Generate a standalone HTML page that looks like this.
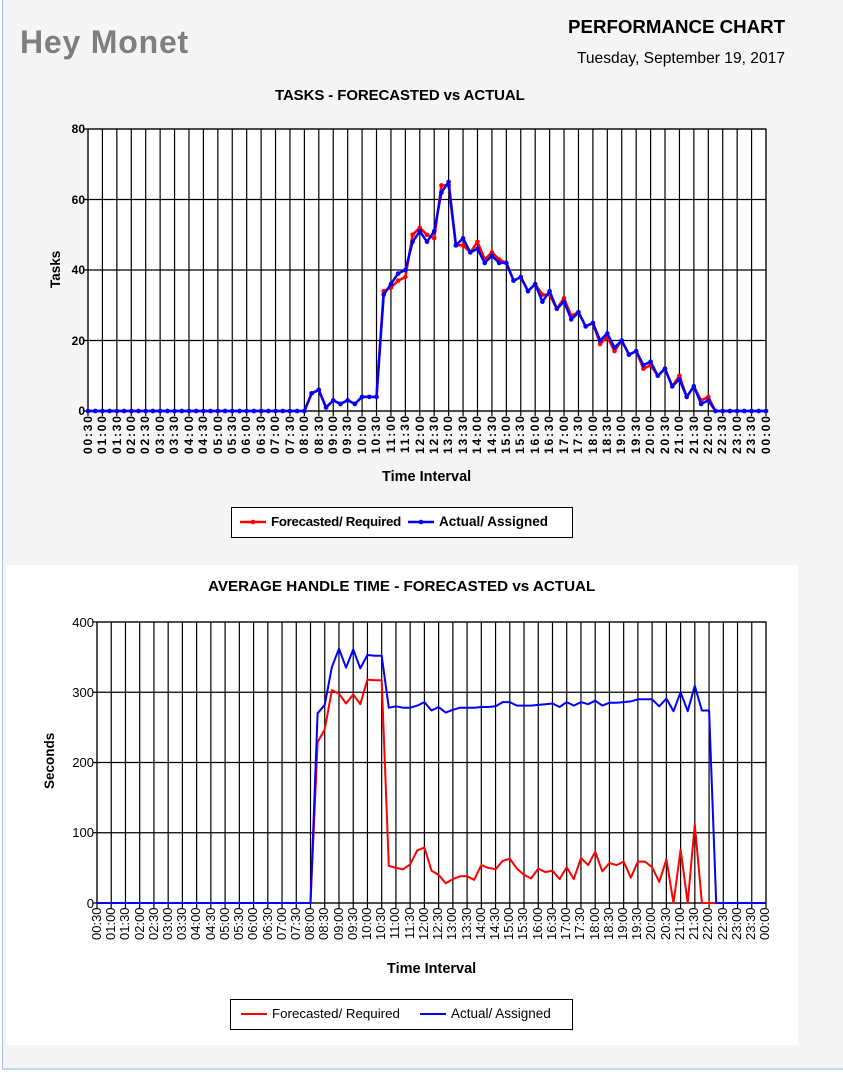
<!DOCTYPE html>
<html><head><meta charset="utf-8">
<style>
*{margin:0;padding:0;box-sizing:border-box}
body{width:843px;height:1076px;background:#fff;position:relative;overflow:hidden;font-family:"Liberation Sans",Arial,sans-serif;color:#000}
.pg{position:absolute;left:2px;top:0;width:841px;height:1070px;background:#f5f5f5;border-left:1px solid #a9c3ea;border-bottom:2px solid #c5d7f0}
.wb{position:absolute;left:6px;top:565px;width:792px;height:480px;background:#fff}
.a{position:absolute;white-space:nowrap}
.row{position:absolute;display:flex}
.row span{display:block;writing-mode:vertical-rl;transform:rotate(180deg);text-align:end;line-height:14px}
.r1 span{width:14.426px;height:42px;font-size:12px;font-weight:bold;letter-spacing:1.8px}
.r2 span{width:14.234px;height:40px;font-size:13px}
svg{position:absolute;left:0;top:0}
</style></head><body>
<div class="pg"></div>
<div class="wb"></div>
<div class="a" style="left:20px;top:24px;font-size:32px;font-weight:bold;color:#7f7f7f;letter-spacing:0.8px">Hey Monet</div>
<div class="a" style="right:58px;top:16px;font-size:18.7px;font-weight:bold">PERFORMANCE CHART</div>
<div class="a" style="right:58px;top:50px;font-size:15.6px">Tuesday, September 19, 2017</div>
<div class="a" style="left:275px;top:87px;font-size:15px;font-weight:bold;letter-spacing:-0.1px">TASKS - FORECASTED vs ACTUAL</div>
<div class="a" style="left:208px;top:578px;font-size:15.2px;font-weight:bold">AVERAGE HANDLE TIME - FORECASTED vs ACTUAL</div>

<div class="a" style="right:758px;top:122px;font-size:12px;font-weight:bold">80</div>
<div class="a" style="right:758px;top:193px;font-size:12px;font-weight:bold">60</div>
<div class="a" style="right:758px;top:263px;font-size:12px;font-weight:bold">40</div>
<div class="a" style="right:758px;top:334px;font-size:12px;font-weight:bold">20</div>
<div class="a" style="right:758px;top:404px;font-size:12px;font-weight:bold">0</div>
<div class="a" style="left:38px;top:262px;font-size:13.5px;font-weight:bold;transform:rotate(-90deg);transform-origin:18px 8px">Tasks</div>

<div class="a" style="right:749px;top:615px;font-size:13px">400</div>
<div class="a" style="right:749px;top:685px;font-size:13px">300</div>
<div class="a" style="right:749px;top:755px;font-size:13px">200</div>
<div class="a" style="right:749px;top:825px;font-size:13px">100</div>
<div class="a" style="right:749px;top:896px;font-size:13px">0</div>
<div class="a" style="left:24px;top:755px;font-size:13.5px;font-weight:bold;transform:rotate(-90deg);transform-origin:26px 8px">Seconds</div>

<div class="row r1" style="left:80.8px;top:414px"><span>00:30</span><span>01:00</span><span>01:30</span><span>02:00</span><span>02:30</span><span>03:00</span><span>03:30</span><span>04:00</span><span>04:30</span><span>05:00</span><span>05:30</span><span>06:00</span><span>06:30</span><span>07:00</span><span>07:30</span><span>08:00</span><span>08:30</span><span>09:00</span><span>09:30</span><span>10:00</span><span>10:30</span><span>11:00</span><span>11:30</span><span>12:00</span><span>12:30</span><span>13:00</span><span>13:30</span><span>14:00</span><span>14:30</span><span>15:00</span><span>15:30</span><span>16:00</span><span>16:30</span><span>17:00</span><span>17:30</span><span>18:00</span><span>18:30</span><span>19:00</span><span>19:30</span><span>20:00</span><span>20:30</span><span>21:00</span><span>21:30</span><span>22:00</span><span>22:30</span><span>23:00</span><span>23:30</span><span>00:00</span></div>
<div class="row r2" style="left:89.9px;top:907px"><span>00:30</span><span>01:00</span><span>01:30</span><span>02:00</span><span>02:30</span><span>03:00</span><span>03:30</span><span>04:00</span><span>04:30</span><span>05:00</span><span>05:30</span><span>06:00</span><span>06:30</span><span>07:00</span><span>07:30</span><span>08:00</span><span>08:30</span><span>09:00</span><span>09:30</span><span>10:00</span><span>10:30</span><span>11:00</span><span>11:30</span><span>12:00</span><span>12:30</span><span>13:00</span><span>13:30</span><span>14:00</span><span>14:30</span><span>15:00</span><span>15:30</span><span>16:00</span><span>16:30</span><span>17:00</span><span>17:30</span><span>18:00</span><span>18:30</span><span>19:00</span><span>19:30</span><span>20:00</span><span>20:30</span><span>21:00</span><span>21:30</span><span>22:00</span><span>22:30</span><span>23:00</span><span>23:30</span><span>00:00</span></div>

<div class="a" style="left:382px;top:469px;font-size:14.5px;font-weight:bold">Time Interval</div>
<div class="a" style="left:387px;top:961px;font-size:14.5px;font-weight:bold">Time Interval</div>

<div class="a" style="left:231px;top:507px;width:342px;height:31px;border:1px solid #000;background:#fff"></div>
<div class="a" style="left:271px;top:514px;font-size:13.3px;font-weight:bold;letter-spacing:-0.3px">Forecasted/ Required</div>
<div class="a" style="left:439px;top:514px;font-size:13.5px;font-weight:bold">Actual/ Assigned</div>

<div class="a" style="left:230px;top:999px;width:343px;height:31px;border:1px solid #000;background:#fff"></div>
<div class="a" style="left:272px;top:1006px;font-size:13.3px">Forecasted/ Required</div>
<div class="a" style="left:451px;top:1006px;font-size:13.5px">Actual/ Assigned</div>

<svg id="s" width="843" height="1076" xmlns="http://www.w3.org/2000/svg"></svg>
<script>
var s=document.getElementById('s'),NS='http://www.w3.org/2000/svg';
function el(t,a){var e=document.createElementNS(NS,t);for(var k in a)e.setAttribute(k,a[k]);s.appendChild(e);return e}
function z(n){var a=[];for(var i=0;i<n;i++)a.push(0);return a}
var tF=z(31).concat([5,6,1,3,2,3,2,4,4,4,34,35,37,38,50,52,50,49,64,64,47,47,45,48,43,45,43,42,37,38,34,36,33,33,29,32,27,28,24,25,19,21,17,20,16,17,12,13,10,12,7,10,4,7,3,4]).concat(z(8));
var tA=z(31).concat([5,6,1,3,2,3,2,4,4,4,33,36,39,40,48,51,48,51,62,65,47,49,45,46,42,44,42,42,37,38,34,36,31,34,29,31,26,28,24,25,20,22,18,20,16,17,13,14,10,12,7,9,4,7,2,3]).concat(z(8));
var hF=z(31).concat([229,247,303,298,284,297,283,318,317,317,53,50,48,55,75,79,46,40,28,34,38,38,33,54,50,48,60,63,49,40,35,49,44,46,34,51,34,64,54,73,45,57,54,59,36,59,59,51,30,62,0,76,0,112,0,0]).concat(z(8));
var hA=z(31).concat([270,282,336,362,335,361,334,353,352,352,278,280,278,278,281,286,274,279,271,275,278,278,278,279,279,280,286,286,281,281,281,282,283,284,279,286,281,286,283,288,281,285,285,286,287,290,290,290,280,291,273,300,273,309,274,274]).concat(z(8));
function chart(x0,x1,y0,y1,ymax,ystep,F,A,dots,lw){
  el('rect',{x:x0,y:y1,width:x1-x0,height:y0-y1,fill:'#fff'});
  for(var k=0;k<48;k++){var x=x0+(x1-x0)*k/47;el('line',{x1:x,y1:y1,x2:x,y2:y0+5,stroke:'#000','stroke-width':1.2});}
  for(var v=0;v<=ymax;v+=ystep){var y=y0-(y0-y1)*v/ymax;el('line',{x1:x0-4,y1:y,x2:x1,y2:y,stroke:'#000','stroke-width':1.2});}
  el('rect',{x:x0,y:y1,width:x1-x0,height:y0-y1,fill:'none',stroke:'#000','stroke-width':1.2});
  [[F,'#f00'],[A,'#00f']].forEach(function(p){
    var pts=p[0].map(function(v,i){return (x0+(x1-x0)*i/94).toFixed(1)+','+(y0-(y0-y1)*v/ymax).toFixed(1)}).join(' ');
    el('polyline',{points:pts,fill:'none',stroke:p[1],'stroke-width':lw,'stroke-linejoin':'round'});
    if(dots)p[0].forEach(function(v,i){el('circle',{cx:x0+(x1-x0)*i/94,cy:y0-(y0-y1)*v/ymax,r:2.3,fill:p[1]})});
  });
}
chart(88,766,411,129,80,20,tF,tA,true,2.5);
chart(97,766,903,622,400,100,hF,hA,false,2);
el('line',{x1:240,y1:522,x2:266,y2:522,stroke:'#f00','stroke-width':2.5});el('circle',{cx:253,cy:522,r:2.3,fill:'#f00'});
el('line',{x1:408,y1:522,x2:434,y2:522,stroke:'#00f','stroke-width':2.5});el('circle',{cx:421,cy:522,r:2.3,fill:'#00f'});
el('line',{x1:241,y1:1014,x2:267,y2:1014,stroke:'#f00','stroke-width':2});
el('line',{x1:420,y1:1014,x2:446,y2:1014,stroke:'#00f','stroke-width':2});
</script>
</body></html>
